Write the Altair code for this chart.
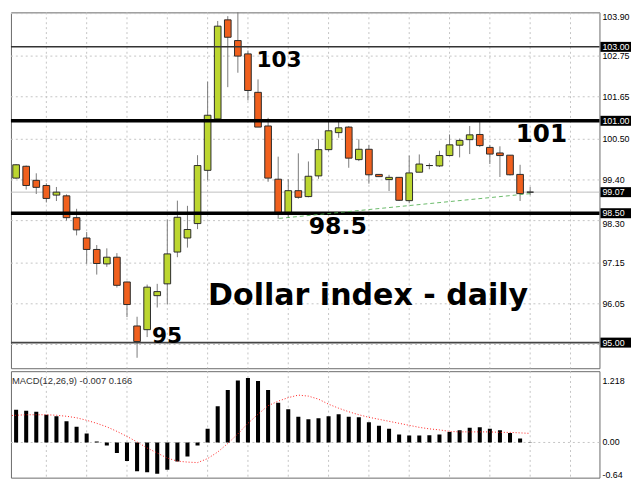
import altair as alt
import pandas as pd

# ---------------- data ----------------
opens = [99.29, 99.45, 99.77, 99.39, 99.25, 98.99, 98.97, 98.38, 97.83, 97.52,
         97.13, 97.31, 96.64, 95.45, 95.35, 96.27, 96.59, 97.45, 97.83, 98.22,
         99.66, 101.05, 103.73, 103.17, 102.81, 101.77, 100.86, 99.42, 98.52, 99.11,
         98.95, 99.51, 100.22, 100.68, 100.83, 99.95, 100.23, 99.55, 99.41, 99.47,
         98.84, 99.61, 99.79, 99.78, 100.06, 100.34, 100.49, 100.63, 100.28, 100.13,
         100.07, 99.55, 99.07]
closes = [99.48, 99.81, 99.25, 99.20, 98.90, 99.07, 98.38, 98.05, 97.52, 97.14,
          97.31, 96.55, 96.03, 95.03, 96.50, 96.38, 97.40, 98.39, 98.06, 99.79,
          101.15, 103.56, 103.26, 102.75, 101.82, 100.83, 99.45, 98.52, 99.11, 98.93,
          99.50, 100.22, 100.73, 100.81, 99.99, 100.23, 99.54, 99.49, 99.47, 98.85,
          99.59, 99.83, 99.79, 100.06, 100.35, 100.47, 100.62, 100.33, 100.10, 100.06,
          99.54, 99.03, 99.07]
highs = [99.61, 99.83, 99.79, 99.58, 99.31, 99.21, 99.01, 98.62, 97.99, 97.64,
         97.55, 97.42, 96.65, 95.70, 96.57, 96.59, 98.33, 98.84, 98.70, 100.07,
         102.06, 103.70, 103.83, 103.99, 102.90, 102.12, 101.08, 100.03, 99.42, 100.12,
         99.90, 100.50, 100.99, 100.99, 100.86, 100.50, 100.35, 99.56, 99.54, 99.48,
         100.06, 100.09, 99.85, 100.19, 100.63, 100.52, 100.86, 100.97, 100.35, 100.31,
         100.07, 99.81, 99.21]
lows = [99.21, 99.43, 99.14, 99.02, 98.79, 98.83, 98.30, 97.90, 97.13, 96.84,
        97.05, 96.49, 95.69, 94.59, 95.15, 95.95, 96.04, 97.31, 97.57, 98.07,
        99.39, 101.05, 101.91, 102.30, 101.55, 100.83, 99.35, 98.35, 98.37, 98.89,
        98.93, 99.43, 100.17, 100.54, 99.73, 99.91, 99.30, 99.48, 99.10, 98.83,
        98.77, 99.61, 99.69, 99.75, 100.06, 100.01, 100.10, 100.29, 99.83, 99.48,
        99.52, 98.83, 98.99]
macd_vals = [0.61, 0.65, 0.63, 0.61, 0.55, 0.52, 0.42, 0.31, 0.18, 0.02,
             -0.06, -0.21, -0.37, -0.57, -0.59, -0.62, -0.54, -0.38, -0.28, -0.06,
             0.27, 0.72, 1.04, 1.23, 1.28, 1.22, 1.04, 0.79, 0.66, 0.51,
             0.46, 0.48, 0.52, 0.56, 0.51, 0.50, 0.40, 0.33, 0.27, 0.16,
             0.14, 0.14, 0.145, 0.16, 0.21, 0.24, 0.29, 0.30, 0.27, 0.24,
             0.19, 0.08, -0.007]
signal_vals = [0.53, 0.54, 0.55, 0.55, 0.55, 0.54, 0.52, 0.49, 0.44, 0.38,
               0.31, 0.22, 0.12, 0.01, -0.11, -0.21, -0.31, -0.37, -0.39, -0.40,
               -0.32, -0.19, -0.02, 0.17, 0.38, 0.56, 0.73, 0.82, 0.89, 0.94,
               0.92, 0.86, 0.76, 0.68, 0.61, 0.55, 0.50, 0.46, 0.42, 0.38,
               0.34, 0.30, 0.27, 0.25, 0.22, 0.21, 0.21, 0.21, 0.21, 0.20,
               0.20, 0.19, 0.18]

# horizontal grid of the price panel (the 94.95 label is hidden under the 95.00 box)
price_grid = [103.90, 102.75, 101.65, 100.50, 99.40, 98.30, 97.15, 96.05, 94.95]
top_tick = [103.90]
top_tick_label = ["103.90"]
mid_ticks = [102.75, 101.65, 100.50, 99.40, 97.15, 96.05]
mid_tick_labels = ["102.75", "101.65", "100.50", "99.40", "97.15", "96.05"]
under_box_ticks = [98.30]
under_box_labels = ["98.30"]

macd_ticks = [1.218, 0.0, -0.64]
macd_labels = ["1.218", "0.00", "-0.64"]
vgrid = [4, 8, 12, 16, 20, 24, 28, 32, 36, 40, 44, 48, 52, 56]

level_thick = [101.0, 98.5]
level_top = [103.0]
level_bottom = [95.0]
last_price = [99.07]
box_levels = [103.0, 101.0, 99.07, 98.5, 95.0]
box_labels = ["103.00", "101.00", "99.07", "98.50", "95.00"]

trend_i = [27.1, 52.0]
trend_p = [98.36, 99.03]

macd_title = ["MACD(12,26,9) -0.007 0.166"]
note_103 = ["103"]
note_101 = ["101"]
note_985 = ["98.5"]
note_95 = ["95"]
note_title = ["Dollar index - daily"]

# ---------------- tables ----------------
n = len(opens)
candles = pd.DataFrame({
    "i": list(range(n)),
    "open": opens, "high": highs, "low": lows, "close": closes,
})
candles["dir"] = ["up" if c > o else ("down" if c < o else "flat")
                  for o, c in zip(opens, closes)]
macd_df = pd.DataFrame({"i": list(range(n)), "macd": macd_vals, "sig": signal_vals})

W = 597
H_MAIN = 361
H_MACD = 108

xscale = alt.Scale(domain=[0.489, 58.875], nice=False, zero=False)
yscale = alt.Scale(domain=[94.307, 103.933], nice=False, zero=False)
mscale = alt.Scale(domain=[-0.699, 1.415], nice=False, zero=False)

GRID = "#c4c4c4"
FONT = "Liberation Sans"
LABEL_X = 600


def Yp(field):
    return alt.Y(field, scale=yscale, axis=None)


def Xi(field):
    return alt.X(field, scale=xscale, axis=None)


def tick_text(values, labels, baseline, dy):
    return alt.Chart(pd.DataFrame({"p": values, "lab": labels})).mark_text(
        font=FONT, fontSize=9, color="#000000", align="left",
        baseline=baseline, dy=dy
    ).encode(x=alt.value(LABEL_X), y=Yp("p:Q"), text="lab:N")


# ---------------- main panel ----------------
hgrid = alt.Chart(pd.DataFrame({"p": price_grid})).mark_rule(
    color=GRID, strokeDash=[2, 3], strokeWidth=1
).encode(y=Yp("p:Q"))

vgrid_main = alt.Chart(pd.DataFrame({"v": vgrid})).mark_rule(
    color=GRID, strokeDash=[2, 3], strokeWidth=1
).encode(x=Xi("v:Q"))

tick_top = tick_text(top_tick, top_tick_label, "top", -1)
tick_mid = tick_text(mid_ticks, mid_tick_labels, "middle", 0)
tick_under = tick_text(under_box_ticks, under_box_labels, "top", -1)

last_line = alt.Chart(pd.DataFrame({"p": last_price})).mark_rule(
    color="#c0c0c0", strokeWidth=1
).encode(y=Yp("p:Q"))

wicks = alt.Chart(candles).mark_rule(color="#7a7a7a", strokeWidth=1, clip=True).encode(
    x=Xi("i:Q"), y=Yp("low:Q"), y2="high:Q",
)
bodies = alt.Chart(candles).transform_calculate(
    x0="datum.i - 0.33", x1="datum.i + 0.33"
).mark_rect(stroke="#2b2b2b", strokeWidth=1, clip=True).encode(
    x=Xi("x0:Q"), x2="x1:Q",
    y=Yp("open:Q"), y2="close:Q",
    color=alt.Color("dir:N", legend=None, scale=alt.Scale(
        domain=["up", "down", "flat"], range=["#bcd630", "#f0601e", "#333333"])),
)

thick_lines = alt.Chart(pd.DataFrame({"p": level_thick})).mark_rule(
    color="#000000", strokeWidth=3.5
).encode(y=Yp("p:Q"))
top_line = alt.Chart(pd.DataFrame({"p": level_top})).mark_rule(
    color="#333333", strokeWidth=1.5
).encode(y=Yp("p:Q"))
bottom_line = alt.Chart(pd.DataFrame({"p": level_bottom})).mark_rule(
    color="#444444", strokeWidth=2
).encode(y=Yp("p:Q"))

trend = alt.Chart(pd.DataFrame({"i": trend_i, "p": trend_p})).mark_line(
    color="#4fae4f", strokeDash=[4, 3], strokeWidth=1, opacity=0.85
).encode(x=Xi("i:Q"), y=Yp("p:Q"))

box_df = pd.DataFrame({"p": box_levels, "lab": box_labels})
boxes = alt.Chart(box_df).transform_calculate(
    t="datum.p + 0.135", b="datum.p - 0.135"
).mark_rect(color="#000000").encode(
    x=alt.value(598), x2=alt.value(629),
    y=Yp("t:Q"), y2="b:Q",
)
box_text = alt.Chart(box_df).mark_text(
    color="#ffffff", font=FONT, fontSize=9, align="left", baseline="middle"
).encode(x=alt.value(LABEL_X), y=Yp("p:Q"), text="lab:N")


def note(txt, px, py, size):
    return alt.Chart(pd.DataFrame({"t": txt})).mark_text(
        font="DejaVu Sans", fontWeight="bold", fontSize=size, color="#000000",
        align="left", baseline="alphabetic"
    ).encode(x=alt.value(px), y=alt.value(py), text="t:N")


notes = [
    note(note_103, 249, 55, 22),
    note(note_101, 512, 132, 25),
    note(note_985, 302, 225, 24),
    note(note_95, 143, 335, 22),
    note(note_title, 200, 297, 30.5),
]

main = alt.layer(
    hgrid, vgrid_main, last_line, wicks, bodies,
    top_line, thick_lines, bottom_line, trend,
    tick_top, tick_mid, tick_under, boxes, box_text, *notes
).properties(width=W, height=H_MAIN)


# ---------------- MACD panel ----------------
def Ym(field):
    return alt.Y(field, scale=mscale, axis=None)


zero_line = alt.Chart(pd.DataFrame({"z": [0.0]})).mark_rule(
    color=GRID, strokeDash=[2, 3], strokeWidth=1
).encode(y=Ym("z:Q"))
vgrid_macd = alt.Chart(pd.DataFrame({"v": vgrid})).mark_rule(
    color=GRID, strokeDash=[2, 3], strokeWidth=1
).encode(x=Xi("v:Q"))

bars = alt.Chart(macd_df).transform_calculate(
    x0="datum.i - 0.2", x1="datum.i + 0.2", z="0"
).mark_rect(color="#000000", clip=True).encode(
    x=Xi("x0:Q"), x2="x1:Q", y=Ym("macd:Q"), y2="z:Q",
)
sig_line = alt.Chart(macd_df).mark_line(
    color="#ff2020", strokeDash=[1, 2], strokeWidth=1, clip=True
).encode(x=Xi("i:Q"), y=Ym("sig:Q"))

macd_tick_text = alt.Chart(pd.DataFrame({"m": macd_ticks, "lab": macd_labels})).mark_text(
    font=FONT, fontSize=9, color="#000000", align="left", baseline="middle"
).encode(x=alt.value(LABEL_X), y=Ym("m:Q"), text="lab:N")

macd_label = alt.Chart(pd.DataFrame({"t": macd_title})).mark_text(
    font=FONT, fontSize=9.5, color="#333333", align="left", baseline="alphabetic"
).encode(x=alt.value(1), y=alt.value(13), text="t:N")

macd = alt.layer(vgrid_macd, zero_line, bars, sig_line, macd_tick_text, macd_label).properties(
    width=W, height=H_MACD)

chart = alt.vconcat(main, macd, spacing=1).properties(
    padding=0, background="#ffffff"
).configure_view(stroke="#6a6a6a", strokeWidth=1).configure_concat(spacing=1)

chart.save("out.html", embed_options={"renderer": "svg", "actions": False})
